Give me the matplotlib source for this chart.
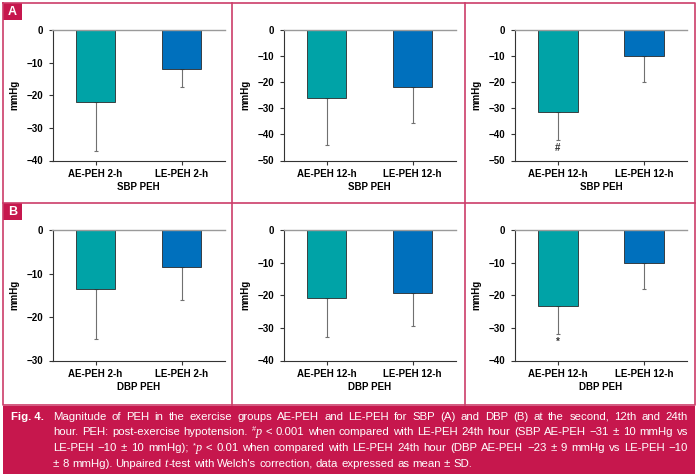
import re
import matplotlib
matplotlib.use('Agg')
import matplotlib.pyplot as plt
import matplotlib.patches as mpatches
import matplotlib.lines as mlines
import matplotlib.transforms as mtransforms
from matplotlib import font_manager

W, H = 699, 476

# --- data -------------------------------------------------------------
groups = ['AE-PEH', 'LE-PEH']
hours = ['2-h', '12-h', '12-h']
row_titles = ['SBP PEH', 'DBP PEH']
row_tags = ['A', 'B']
ymins = [[-40, -50, -50], [-30, -40, -40]]

sbp_mean = [[-22, -12], [-26, -21.8], [-31.3, -10]]
sbp_sd = [[15, 5.4], [18, 13.8], [11, 10]]
dbp_mean = [[-13.6, -8.4], [-20.7, -19.4], [-23.3, -10]]
dbp_sd = [[11.4, 7.6], [12, 10], [8.7, 8]]
signif = {(0, 2): '#', (1, 2): '*'}

caption_lines = [
    "Magnitude of PEH in the exercise groups AE-PEH and LE-PEH for SBP (A) and DBP (B) at the second, 12th and 24th",
    "hour. PEH: post-exercise hypotension. {sup:#}{it:p} < 0.001 when compared with LE-PEH 24th hour (SBP AE-PEH \u221231 \u00b1 10 mmHg vs",
    "LE-PEH \u221210 \u00b1 10 mmHg); {sup:*}{it:p} < 0.01 when compared with LE-PEH 24th hour (DBP AE-PEH \u221223 \u00b1 9 mmHg vs LE-PEH \u221210",
    "\u00b1 8 mmHg). Unpaired {it:t}-test with Welch's correction, data expressed as mean \u00b1 SD.",
]

teal = '#00a3a7'
blue = '#0070bd'
crimson = '#c6174d'
frame = '#cc3d69'

plt.rcParams['font.family'] = ['Liberation Sans', 'DejaVu Sans']

installed = {f.name for f in font_manager.fontManager.ttflist}
if 'Liberation Sans Narrow' in installed:
    cap_family, cap_size = ['Liberation Sans Narrow', 'DejaVu Sans'], 9.6
else:
    cap_family, cap_size = ['Liberation Sans', 'DejaVu Sans'], 8.2

fig = plt.figure(figsize=(W / 100, H / 100), dpi=100)
fig.patch.set_facecolor('white')


def fbox(x0, y0, x1, y1):
    # pixel box (top-left origin) -> figure fraction rect
    return [x0 / W, 1 - y1 / H, (x1 - x0) / W, (y1 - y0) / H]


def fline(xs, ys, **kw):
    fig.add_artist(mlines.Line2D([x / W for x in xs], [1 - y / H for y in ys],
                                 transform=fig.transFigure, **kw))


# panel frame
fline([3, 695, 695, 3, 3], [3, 3, 405, 405, 3], color=frame, lw=1.2)
fline([3, 695], [203, 203], color=frame, lw=1.2)
fline([232, 232], [3, 405], color=frame, lw=1.2)
fline([465, 465], [3, 405], color=frame, lw=1.2)

col_left = [52.5, 283.5, 515]
row_top = [30, 230]
ax_w, ax_h = 172, 130.5

for r in range(2):
    means = sbp_mean if r == 0 else dbp_mean
    sds = sbp_sd if r == 0 else dbp_sd
    for c in range(3):
        x0, y0 = col_left[c], row_top[r]
        ax = fig.add_axes(fbox(x0, y0, x0 + ax_w, y0 + ax_h))
        xs = [0, 1]
        ax.bar(xs, means[c], width=0.465, color=[teal, blue],
               edgecolor='#2b2b2b', linewidth=0.6, zorder=2)
        ax.errorbar(xs, means[c], yerr=[sds[c], [0, 0]], fmt='none',
                    ecolor='#707070', elinewidth=0.8, capsize=1.5,
                    capthick=0.8, zorder=1)
        if (r, c) in signif:
            lo = means[c][0] - sds[c][0]
            ax.text(0, lo - 0.9, signif[(r, c)], ha='center', va='top',
                    fontsize=7, fontweight='bold', color='#333333')
        ax.set_xlim(-0.5, 1.5)
        ax.set_ylim(ymins[r][c], 0)
        ax.set_yticks(range(ymins[r][c], 1, 10))
        ax.set_xticks(xs)
        ax.set_xticklabels([g + ' ' + hours[c] for g in groups])
        ax.set_xlabel(row_titles[r], fontsize=7, fontweight='bold', labelpad=2)
        ax.set_ylabel('mmHg', fontsize=7, fontweight='bold', labelpad=5)
        ax.spines['right'].set_visible(False)
        ax.spines['top'].set_color('#9a9a9a')
        ax.spines['top'].set_linewidth(1.0)
        for s in ['left', 'bottom']:
            ax.spines[s].set_color('#333333')
            ax.spines[s].set_linewidth(0.8)
        ax.tick_params(direction='out', length=3, width=0.8, color='#333333',
                       labelsize=7)
        ax.tick_params(axis='y', pad=4)
        ax.tick_params(axis='x', pad=3)
        for lab in ax.get_xticklabels() + ax.get_yticklabels():
            lab.set_fontweight('bold')

# panel tags
for r in range(2):
    ty = 3 + r * 200
    fig.patches.append(mpatches.Rectangle((3 / W, 1 - (ty + 17) / H), 19 / W, 17 / H,
                                          transform=fig.transFigure,
                                          facecolor=crimson, edgecolor='none'))
    fig.text(12.5 / W, 1 - (ty + 8.8) / H, row_tags[r], color='white',
             fontsize=9, fontweight='bold', ha='center', va='center')

# caption box
fig.patches.append(mpatches.Rectangle((3 / W, 1 - 474 / H), 692 / W, 68 / H,
                                      transform=fig.transFigure,
                                      facecolor=crimson, edgecolor='none'))

renderer = fig.canvas.get_renderer()
ident = mtransforms.IdentityTransform()


def make_word(word):
    parts = []
    for m in re.finditer(r'\{(sup|it):([^}]*)\}|([^{]+)', word):
        kw = dict(fontsize=cap_size, color='white', va='baseline', family=cap_family)
        dy = 0
        if m.group(1) == 'sup':
            s = m.group(2)
            kw['fontsize'] = cap_size * 0.65
            dy = 4
        elif m.group(1) == 'it':
            s = m.group(2)
            kw['style'] = 'italic'
            kw['family'] = ['Liberation Serif', 'DejaVu Serif']
            kw['fontsize'] = 8.8
        else:
            s = m.group(3)
        t = fig.text(0, 0, s, transform=ident, **kw)
        w = t.get_window_extent(renderer).width
        parts.append((t, dy, w))
    return parts


space = fig.text(0, 0, 'a a', transform=ident, fontsize=cap_size, family=cap_family)
aa = fig.text(0, 0, 'aa', transform=ident, fontsize=cap_size, family=cap_family)
space_w = space.get_window_extent(renderer).width - aa.get_window_extent(renderer).width
space.remove()
aa.remove()

fig.text(11, H - 419.5, 'Fig. 4.', transform=ident, fontsize=cap_size,
         family=cap_family, fontweight='bold', color='white', va='baseline')

x_start, x_end = 53, 688
for i, line in enumerate(caption_lines):
    y = H - (419.5 + i * 15.8)
    words = [make_word(w) for w in line.split(' ')]
    widths = [sum(p[2] for p in wd) for wd in words]
    if i < len(caption_lines) - 1:
        gap = max((x_end - x_start - sum(widths)) / (len(words) - 1), space_w * 0.7)
    else:
        gap = space_w
    x = x_start
    for wd, ww in zip(words, widths):
        xx = x
        for t, dy, w in wd:
            t.set_position((xx, y + dy))
            xx += w
        x += ww + gap

fig.savefig('out.png', dpi=100)
